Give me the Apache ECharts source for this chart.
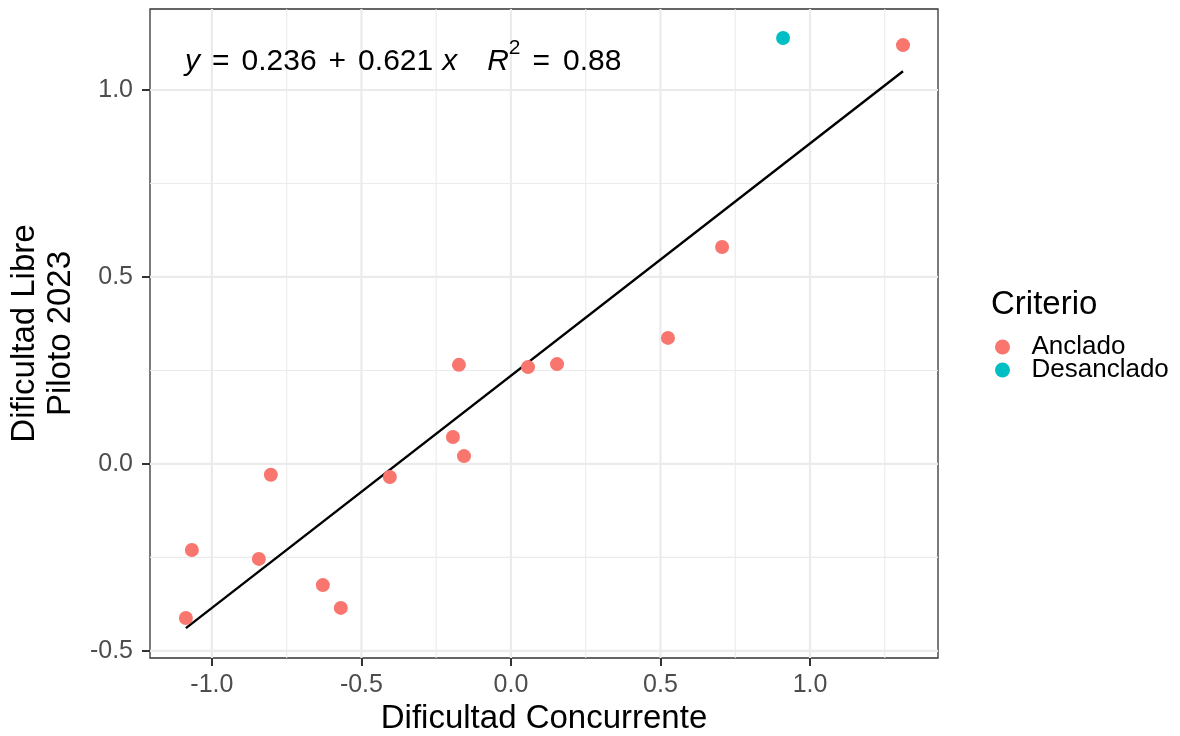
<!DOCTYPE html>
<html>
<head>
<meta charset="utf-8">
<script src="https://cdn.jsdelivr.net/npm/echarts@6/dist/echarts.min.js"></script>
<style>
  html, body { margin: 0; padding: 0; background: #fff; }
  #chart { width: 1180px; height: 736px; }
</style>
</head>
<body>
<div id="chart"></div>
<script>
// datos
var ancladoX = [1.311, 0.706, 0.525, 0.154, 0.057, -0.174, -0.194, -0.157, -0.405, -0.803, -1.067, -0.843, -0.629, -0.569, -1.087];
var ancladoY = [1.120, 0.580, 0.337, 0.267, 0.259, 0.265, 0.072, 0.021, -0.035, -0.029, -0.230, -0.254, -0.324, -0.385, -0.412];
var desancladoX = [0.910];
var desancladoY = [1.139];

var fitIntercept = 0.236;
var fitSlope = 0.621;
var fitR2 = 0.88;

var xTicks = [-1.0, -0.5, 0.0, 0.5, 1.0];
var yTicks = [-0.5, 0.0, 0.5, 1.0];
var xMinor = [-0.75, -0.25, 0.25, 0.75, 1.25];
var yMinor = [-0.25, 0.25, 0.75];

var X_MIN = -1.207, X_MAX = 1.428;
var Y_MIN = -0.519, Y_MAX = 1.2166;

var FONT = 'Liberation Sans';

function pairs(xs, ys) {
    return xs.map(function(x, i) { return [x, ys[i]]; });
}

var allX = ancladoX.concat(desancladoX);
var xLo = Math.min.apply(null, allX);
var xHi = Math.max.apply(null, allX);
var fitLine = [[xLo, fitIntercept + fitSlope * xLo], [xHi, fitIntercept + fitSlope * xHi]];

// rejilla: una serie de linea por cada linea
function gridSeries(v, isX, width) {
    var d = isX ? [[v, Y_MIN], [v, Y_MAX]] : [[X_MIN, v], [X_MAX, v]];
    return {
        type: 'line',
        data: d,
        z: 1,
        silent: true,
        symbol: 'none',
        lineStyle: { color: '#EBEBEB', width: width },
        tooltip: { show: false }
    };
}
var gridLines = [];
xMinor.forEach(function(v) { gridLines.push(gridSeries(v, true, 1.1)); });
yMinor.forEach(function(v) { gridLines.push(gridSeries(v, false, 1.1)); });
xTicks.forEach(function(v) { gridLines.push(gridSeries(v, true, 2.2)); });
yTicks.forEach(function(v) { gridLines.push(gridSeries(v, false, 2.2)); });

var eqText = '{i|y}{op|=}{n|' + fitIntercept.toFixed(3) + '}{op|+}{n|' + fitSlope.toFixed(3) +
    '}{ix|x}{iR|R}{sup|2}{op2|=}{n|' + fitR2.toFixed(2) + '}';

var chart = echarts.init(document.getElementById('chart'), null, { renderer: 'canvas' });

var option = {
    animation: false,
    textStyle: { fontFamily: FONT },
    grid: {
        left: 150, top: 9, right: 242, bottom: 78,
        outerBoundsMode: 'none',
        containLabel: false,
        show: true,
        backgroundColor: '#fff',
        borderColor: '#333333',
        borderWidth: 1.3
    },
    xAxis: {
        type: 'value',
        min: X_MIN,
        max: X_MAX,
        name: 'Dificultad Concurrente',
        nameLocation: 'middle',
        nameGap: 44,
        nameTextStyle: { fontSize: 33, color: '#000', fontFamily: FONT },
        axisLine: { show: false, onZero: false },
        splitLine: { show: false },
        axisTick: { show: true, customValues: xTicks, length: 8, lineStyle: { color: '#333333', width: 2 } },
        axisLabel: {
            customValues: xTicks,
            fontSize: 25, color: '#4D4D4D', margin: 15, fontFamily: FONT,
            formatter: function(v) { return v.toFixed(1); }
        }
    },
    yAxis: {
        type: 'value',
        min: Y_MIN,
        max: Y_MAX,
        name: 'Dificultad Libre\nPiloto 2023',
        nameLocation: 'middle',
        nameGap: 71,
        nameTextStyle: { fontSize: 33, color: '#000', lineHeight: 36, fontFamily: FONT },
        axisLine: { show: false, onZero: false },
        splitLine: { show: false },
        axisTick: { show: true, customValues: yTicks, length: 8, lineStyle: { color: '#333333', width: 2 } },
        axisLabel: {
            customValues: yTicks,
            fontSize: 25, color: '#4D4D4D', margin: 17, fontFamily: FONT,
            formatter: function(v) { return v.toFixed(1); }
        }
    },
    legend: {
        data: ['Anclado', 'Desanclado'],
        orient: 'vertical',
        left: 990,
        top: 329,
        icon: 'circle',
        itemWidth: 24,
        itemHeight: 15,
        itemGap: -3,
        textStyle: { fontSize: 26, color: '#000', lineHeight: 23, padding: [0, 0, 0, 12], fontFamily: FONT }
    },
    graphic: [
        {
            type: 'text',
            left: 991,
            top: 288,
            z: 10,
            style: { text: 'Criterio', fontSize: 33, fill: '#000', fontFamily: FONT }
        },
        {
            type: 'text',
            left: 185,
            top: 38,
            z: 10,
            style: {
                text: eqText,
                fill: '#000',
                fontFamily: FONT,
                fontSize: 30,
                rich: {
                    i: { fontStyle: 'italic', fontSize: 30, lineHeight: 48, fontFamily: FONT },
                    ix: { fontStyle: 'italic', fontSize: 30, lineHeight: 48, fontFamily: FONT, padding: [0, 0, 0, 9] },
                    iR: { fontStyle: 'italic', fontSize: 30, lineHeight: 48, fontFamily: FONT, padding: [0, 0, 0, 30] },
                    n: { fontSize: 30, lineHeight: 48, fontFamily: FONT },
                    op: { fontSize: 30, lineHeight: 48, fontFamily: FONT, padding: [0, 12, 0, 12] },
                    op2: { fontSize: 30, lineHeight: 48, fontFamily: FONT, padding: [0, 13, 0, 12] },
                    sup: { fontSize: 21, lineHeight: 21, verticalAlign: 'top', fontFamily: FONT }
                }
            }
        }
    ],
    series: gridLines.concat([
        {
            name: 'ajuste',
            type: 'line',
            data: fitLine,
            z: 3,
            symbol: 'none',
            lineStyle: { color: '#000', width: 2.4 },
            silent: true
        },
        {
            name: 'Anclado',
            type: 'scatter',
            data: pairs(ancladoX, ancladoY),
            symbolSize: 14,
            z: 5,
            itemStyle: { color: '#F8766D', opacity: 1 }
        },
        {
            name: 'Desanclado',
            type: 'scatter',
            data: pairs(desancladoX, desancladoY),
            symbolSize: 14,
            z: 5,
            itemStyle: { color: '#00BFC4', opacity: 1 }
        }
    ])
};

chart.setOption(option);
</script>
</body>
</html>
